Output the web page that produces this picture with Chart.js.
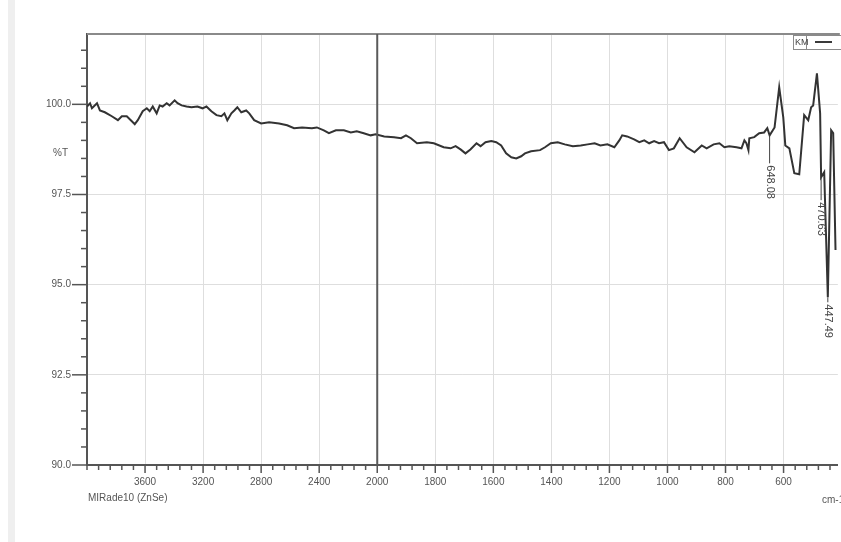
<!DOCTYPE html>
<html>
<head>
<meta charset="utf-8">
<script src="https://cdn.jsdelivr.net/npm/chart.js@4/dist/chart.umd.min.js"></script>
<style>
  html, body { margin: 0; padding: 0; background: #fff; overflow: hidden; }
  #wrap { position: relative; width: 841px; height: 542px; }
  #stripe { position: absolute; left: 8px; top: 0; width: 7px; height: 542px; background: #efefef; }
  canvas { position: absolute; left: 0; top: 0; }
</style>
</head>
<body>
<div id="wrap">
  <div id="stripe"></div>
  <canvas id="c" width="841" height="542"></canvas>
</div>
<script>
// ---- data (wavenumber cm-1, %T) ----
const wavenumbers = [
  4000,3979,3966,3931,3911,3877,3829,3787,3760,3726,3691,3671,3650,3616,3588,3568,3547,3520,3499,3479,
  3451,3431,3396,3376,3348,3314,3280,3239,3204,3177,3143,3108,3074,3053,3033,3005,2985,2964,2937,2903,
  2882,2848,2800,2745,2676,2621,2573,2518,2450,2416,2368,2333,2285,2230,2182,2141,2093,2045,2011,
  1976,1942,1918,1901,1884,1863,1829,1805,1771,1747,1730,1713,1696,1679,1658,1644,1627,1607,1590,1573,
  1556,1538,1521,1504,1491,1470,1439,1422,1402,1378,1354,1326,1299,1275,1251,1231,1207,1183,1166,1156,
  1139,1115,1097,1080,1063,1046,1029,1012,995,978,958,934,907,882,865,841,821,804,787,762,
  745,735,728,721,718,701,684,667,656,648,631,615,601,594,580,563,546,529,515,505,
  498,485,474,470.6,460,447.5,436,429,421
];
const transmittance = [
  99.94,100.03,99.89,100.03,99.83,99.78,99.67,99.56,99.67,99.67,99.53,99.45,99.56,99.81,99.89,99.81,99.94,99.75,99.97,99.94,
  100.03,99.97,100.11,100.03,99.97,99.94,99.92,99.94,99.89,99.94,99.81,99.70,99.67,99.75,99.56,99.75,99.83,99.92,99.78,99.83,
  99.75,99.56,99.47,99.50,99.47,99.42,99.34,99.36,99.34,99.36,99.28,99.20,99.28,99.28,99.22,99.25,99.20,99.14,99.17,
  99.11,99.09,99.06,99.14,99.06,98.92,98.95,98.92,98.81,98.78,98.84,98.75,98.64,98.75,98.92,98.84,98.95,98.98,98.95,98.86,
  98.64,98.53,98.50,98.56,98.64,98.70,98.73,98.81,98.92,98.95,98.89,98.84,98.86,98.89,98.92,98.86,98.89,98.81,99.00,99.14,
  99.11,99.03,98.95,99.00,98.92,98.98,98.92,98.95,98.73,98.78,99.06,98.81,98.67,98.86,98.78,98.89,98.92,98.81,98.84,98.81,
  98.78,99.00,98.92,98.73,99.06,99.09,99.20,99.22,99.34,99.14,99.36,100.47,99.64,98.86,98.78,98.09,98.06,99.70,99.56,99.92,
  99.97,100.86,99.75,97.98,98.12,94.65,99.28,99.20,95.96
];
const peakWavenumbers = [648.08, 470.63, 447.49];
const peakValues      = [99.14, 97.98, 94.65];
const peakLabels      = ["648.08", "470.63", "447.49"];
const xMajorTicks = [3600, 3200, 2800, 2400, 2000, 1800, 1600, 1400, 1200, 1000, 800, 600];
const yMajorTicks = [90.0, 92.5, 95.0, 97.5, 100.0];
const seriesName = "KM";
const sampleLabel = "MIRade10 (ZnSe)";
const xUnit = "cm-1";
const yUnit = "%T";

// ---- axis with a break in scale at 2000 cm-1 (above: half scale) ----
function toPos(w) { return w >= 2000 ? (4000 - w) / 2 : 1000 + (2000 - w); }
function fromPos(p) { return p <= 1000 ? 4000 - 2 * p : 2000 - (p - 1000); }
const near = (a, b) => Math.abs(a - b) < 1e-6;
function isMajorX(p) { return xMajorTicks.some(w => near(toPos(w), p)); }
function isMajorY(v) { return yMajorTicks.some(t => near(t, v)); }

const points = wavenumbers.map((w, i) => ({ x: toPos(w), y: transmittance[i] }));

const FONT = "'Liberation Sans', Arial, sans-serif";
const TXT = '#555';

// style for peak labels (offsets in px below the peak)
const peakLabelGap = [28, 23, 5];

const decor = {
  id: 'decor',
  beforeDatasetsDraw(chart) {
    const { ctx, chartArea: a } = chart;
    ctx.save();
    ctx.strokeStyle = '#8a8a8a'; ctx.lineWidth = 2;
    ctx.beginPath(); ctx.moveTo(a.left, a.top); ctx.lineTo(a.right + 2, a.top); ctx.stroke();
    ctx.restore();
  },
  afterDraw(chart) {
    const { ctx, chartArea: a, scales: { x, y } } = chart;
    ctx.save();
    // 2000 cm-1 break line
    ctx.strokeStyle = '#5a5a5a'; ctx.lineWidth = 2;
    const bx = x.getPixelForValue(toPos(2000));
    ctx.beginPath(); ctx.moveTo(bx, a.top); ctx.lineTo(bx, a.bottom); ctx.stroke();
    // tick marks
    ctx.strokeStyle = '#555'; ctx.lineWidth = 1.5;
    x.ticks.forEach(t => {
      const px = x.getPixelForValue(t.value);
      ctx.beginPath(); ctx.moveTo(px, a.bottom); ctx.lineTo(px, a.bottom + (isMajorX(t.value) ? 8 : 5)); ctx.stroke();
    });
    y.ticks.forEach(t => {
      const py = y.getPixelForValue(t.value);
      ctx.beginPath(); ctx.moveTo(a.left, py); ctx.lineTo(a.left - (isMajorY(t.value) ? 15 : 6), py); ctx.stroke();
    });
    // y unit
    ctx.fillStyle = TXT; ctx.font = '10px ' + FONT;
    ctx.textAlign = 'right'; ctx.textBaseline = 'middle';
    ctx.fillText(yUnit, 68, 153);
    // sample label and x unit
    ctx.textAlign = 'left';
    ctx.fillText(sampleLabel, 88, 498);
    ctx.fillText(xUnit, 822, 500);
    // peak labels
    ctx.strokeStyle = '#444'; ctx.lineWidth = 1;
    ctx.font = '11px ' + FONT;
    peakWavenumbers.forEach((w, i) => {
      const px = x.getPixelForValue(toPos(w));
      const py = y.getPixelForValue(peakValues[i]);
      ctx.beginPath(); ctx.moveTo(px, py); ctx.lineTo(px, py + peakLabelGap[i]); ctx.stroke();
      ctx.save();
      ctx.translate(px, py + peakLabelGap[i] + 2);
      ctx.rotate(Math.PI / 2);
      ctx.textAlign = 'left'; ctx.textBaseline = 'middle';
      ctx.fillStyle = '#444';
      ctx.fillText(peakLabels[i], 0, 0);
      ctx.restore();
    });
    // legend box
    ctx.fillStyle = '#fff';
    ctx.fillRect(793, 35, 50, 14);
    ctx.strokeStyle = '#8a8a8a'; ctx.lineWidth = 1;
    ctx.strokeRect(793.5, 35.5, 50, 14);
    ctx.strokeRect(793.5, 35.5, 13, 14);
    ctx.fillStyle = '#444'; ctx.font = '9px ' + FONT;
    ctx.textAlign = 'left'; ctx.textBaseline = 'middle';
    ctx.fillText(seriesName, 795, 42.5);
    ctx.strokeStyle = '#3a3a3a'; ctx.lineWidth = 2;
    ctx.beginPath(); ctx.moveTo(815, 42); ctx.lineTo(832, 42); ctx.stroke();
    ctx.restore();
  }
};

new Chart(document.getElementById('c'), {
  type: 'line',
  data: {
    datasets: [{
      label: seriesName,
      data: points,
      borderColor: '#333',
      borderWidth: 2,
      pointRadius: 0,
      tension: 0,
      fill: false
    }]
  },
  options: {
    responsive: false,
    animation: false,
    devicePixelRatio: 1,
    layout: { padding: { top: 34, right: 0, left: 0, bottom: 0 } },
    plugins: { legend: { display: false }, tooltip: { enabled: false } },
    scales: {
      x: {
        type: 'linear',
        min: 0,
        max: 2587,
        afterFit(s) { s.height = 77; },
        afterBuildTicks(s) {
          const t = [];
          for (let p = 0; p <= 2587; p += 40) t.push({ value: p });
          s.ticks = t;
        },
        border: { display: true, color: '#555', width: 2 },
        grid: {
          drawTicks: false,
          color: c => (c.tick && isMajorX(c.tick.value) && c.tick.value > 0) ? '#dedede' : 'rgba(0,0,0,0)',
          lineWidth: 1
        },
        ticks: {
          autoSkip: false,
          maxRotation: 0,
          padding: 11,
          color: TXT,
          font: { size: 10, family: FONT },
          callback: v => isMajorX(v) ? String(Math.round(fromPos(v))) : ''
        }
      },
      y: {
        type: 'linear',
        min: 90,
        max: 101.95,
        afterFit(s) { s.width = 87; },
        afterBuildTicks(s) {
          const t = [];
          for (let v = 90; v <= 101.9; v += 0.5) t.push({ value: Math.round(v * 10) / 10 });
          s.ticks = t;
        },
        border: { display: true, color: '#555', width: 2 },
        grid: {
          drawTicks: false,
          color: c => (c.tick && isMajorY(c.tick.value) && c.tick.value > 90) ? '#dedede' : 'rgba(0,0,0,0)',
          lineWidth: 1
        },
        ticks: {
          autoSkip: false,
          padding: 16,
          color: TXT,
          font: { size: 10, family: FONT },
          callback: v => isMajorY(v) ? v.toFixed(1) : ''
        }
      }
    }
  },
  plugins: [decor]
});
</script>
</body>
</html>
